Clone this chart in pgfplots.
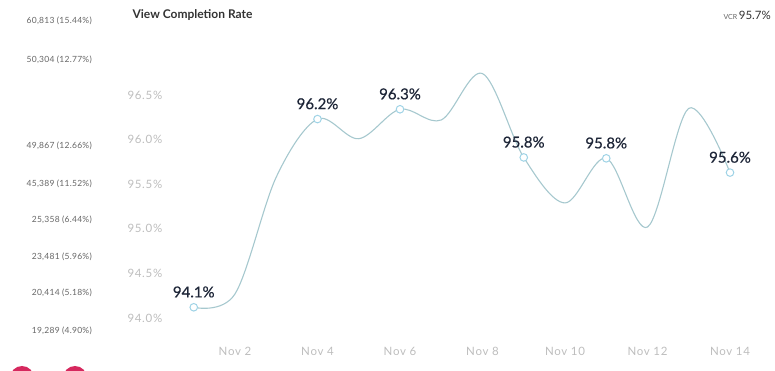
\documentclass[border=0pt]{standalone}
\usepackage{pgfplots}
\pgfplotsset{compat=1.18}
\usepackage{pgfplotstable}
\usepackage{fontspec}
\setmainfont{Lato}
\definecolor{linec}{HTML}{A6C8CE}
\definecolor{markc}{HTML}{9FD3E6}
\definecolor{labc}{HTML}{1E2638}
\definecolor{tickc}{HTML}{BDBDBD}
\definecolor{sidec}{HTML}{666666}
\definecolor{titlec}{HTML}{333333}
\definecolor{pinkc}{HTML}{D6285E}

\pgfplotstableread{
day val
1 94.12
2 94.27
3 95.58
4 96.23
5 96.01
6 96.34
7 96.22
8 96.74
9 95.80
10 95.29
11 95.79
12 95.02
13 96.35
14 95.63
}\vcrdaily

\pgfplotstableread{
day val label
1 94.12 94.1\%
4 96.23 96.2\%
6 96.34 96.3\%
9 95.80 95.8\%
11 95.79 95.8\%
14 95.63 95.6\%
}\vcrmarked

\begin{document}
\begin{tikzpicture}[x=1pt,y=1pt]
\useasboundingbox (0,0) rectangle (775,371);
\begin{axis}[
  at={(193.75pt,53pt)}, anchor=south west,
  scale only axis, width=536.25pt, height=223pt,
  xmin=1, xmax=14, ymin=94, ymax=96.5,
  clip=false,
  axis x line*=bottom, axis y line*=left,
  axis line style={draw=none},
  major tick length=0pt,
  xtick={2,4,6,8,10,12,14},
  xticklabels={Nov 2,Nov 4,Nov 6,Nov 8,Nov 10,Nov 12,Nov 14},
  ytick={94,94.5,95,95.5,96,96.5},
  yticklabels={94.0\%,94.5\%,95.0\%,95.5\%,96.0\%,96.5\%},
  xticklabel style={font=\fontsize{11.5}{13}\selectfont\addfontfeature{LetterSpace=6}, text=tickc, yshift=-26pt},
  yticklabel style={font=\fontsize{11.5}{13}\selectfont\addfontfeature{LetterSpace=6}, text=tickc, xshift=-28pt},
]
\addplot[linec, line width=1.1pt, smooth, tension=0.55, no markers] table[x=day,y=val]{\vcrdaily};
\addplot[only marks, mark=*, mark size=3.8pt, mark options={fill=white, draw=markc, line width=1pt},
  point meta=explicit symbolic,
  nodes near coords,
  nodes near coords style={font=\fontsize{15}{17}\selectfont\addfontfeature{FakeBold=0.6}, text=labc, anchor=south, yshift=6pt}]
  table[x=day,y=val,meta=label]{\vcrmarked};
\end{axis}
\node[anchor=west, font=\bfseries\fontsize{12}{14}\selectfont, text=titlec] at (129,356) {View Completion Rate};
\node[anchor=east, inner sep=0pt, text=titlec] at (771,356) {{\fontsize{7}{8}\selectfont\color{sidec}VCR}\,{\fontsize{11.5}{13}\selectfont 95.7\%}};
\begin{scope}[every node/.style={anchor=east, inner sep=0pt, font=\fontsize{8.5}{10}\selectfont\addfontfeature{LetterSpace=3}, text=sidec}]
\node at (92,350) {60,813 (15.44\%)};
\node at (92,311) {50,304 (12.77\%)};
\node at (92,225) {49,867 (12.66\%)};
\node at (92,187) {45,389 (11.52\%)};
\node at (92,151) {25,358 (6.44\%)};
\node at (92,114) {23,481 (5.96\%)};
\node at (92,78) {20,414 (5.18\%)};
\node at (92,40) {19,289 (4.90\%)};
\end{scope}
\fill[pinkc] (22,-7) circle (12);
\fill[pinkc] (75,-7) circle (12);
\end{tikzpicture}
\end{document}
